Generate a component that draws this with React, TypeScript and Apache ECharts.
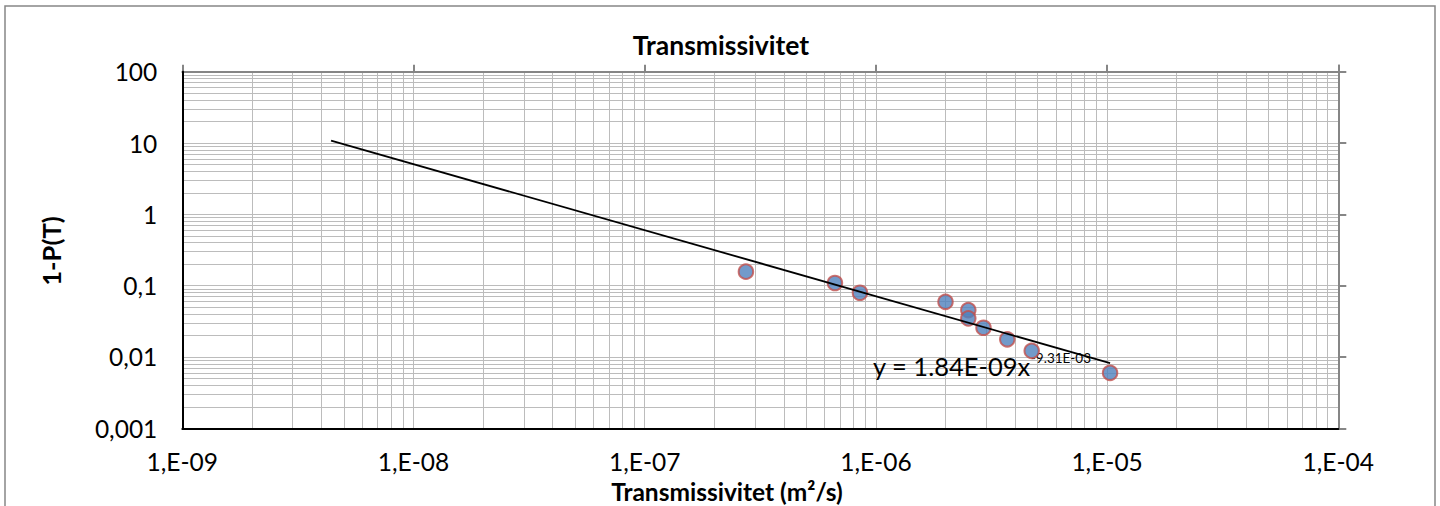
import React, { useEffect, useRef } from "react";
import * as echarts from "echarts";

// Transmissivity (m²/s) against exceedance probability 1-P(T)
const TRANSMISSIVITY = [2.74e-7, 6.65e-7, 8.53e-7, 2.0e-6, 2.51e-6, 2.51e-6, 2.92e-6, 3.7e-6, 4.72e-6, 1.03e-5];
const EXCEEDANCE = [0.157, 0.109, 0.0795, 0.0594, 0.0455, 0.0348, 0.0257, 0.0177, 0.0122, 0.006];

// Power-law trendline end points (straight on log-log axes)
const TREND_T = [4.4e-9, 1.03e-5];
const TREND_P = [10.8, 0.0082];

// Axis ranges and tick labels (one label per decade)
const X_MIN_EXP = -9;
const X_MAX_EXP = -4;
const Y_MIN_EXP = -3;
const Y_MAX_EXP = 2;
const X_TICK_LABELS = ["1,E-09", "1,E-08", "1,E-07", "1,E-06", "1,E-05", "1,E-04"];
const Y_TICK_LABELS = ["0,001", "0,01", "0,1", "1", "10", "100"];

const TITLE = "Transmissivitet";
const X_TITLE = "Transmissivitet (m²/s)";
const Y_TITLE = "1-P(T)";
const EQUATION_MAIN = "y = 1.84E-09x";
const EQUATION_EXP = "-9.31E-03";

const FONT = "Lato, 'Open Sans', sans-serif";
const GRID_COLOR = "#bcbcbc";
const FRAME_COLOR = "#868686";

// Interior log grid lines: 1..9 × 10^k, skipping the plot edges
function logGridValues(minExp: number, maxExp: number): number[] {
  const out: number[] = [];
  for (let e = minExp; e < maxExp; e++) {
    for (let m = 1; m <= 9; m++) {
      if (e === minExp && m === 1) continue;
      out.push(Number((m * Math.pow(10, e)).toPrecision(3)));
    }
  }
  return out;
}

export default function App() {
  const ref = useRef<HTMLDivElement>(null);

  useEffect(() => {
    if (!ref.current) return;
    const chart = echarts.init(ref.current, null, { renderer: "svg" });

    const xMin = Math.pow(10, X_MIN_EXP);
    const xMax = Math.pow(10, X_MAX_EXP);
    const yMin = Math.pow(10, Y_MIN_EXP);
    const yMax = Math.pow(10, Y_MAX_EXP);

    const xGrid = logGridValues(X_MIN_EXP, X_MAX_EXP);
    const yGrid = logGridValues(Y_MIN_EXP, Y_MAX_EXP);
    const gridSegments = [
      ...xGrid.map((v) => ({ coords: [[v, yMin], [v, yMax]] })),
      ...yGrid.map((v) => ({ coords: [[xMin, v], [xMax, v]] })),
    ];

    const xLabel = (v: number) => X_TICK_LABELS[Math.round(Math.log10(v)) - X_MIN_EXP] ?? "";
    const yLabel = (v: number) => Y_TICK_LABELS[Math.round(Math.log10(v)) - Y_MIN_EXP] ?? "";

    chart.setOption({
      animation: false,
      backgroundColor: "#ffffff",
      grid: { left: 182.3, right: 101.7, top: 71.7, bottom: 77.7, containLabel: false },
      xAxis: [
        {
          type: "log",
          logBase: 10,
          min: xMin,
          max: xMax,
          position: "bottom",
          z: 6,
          axisLine: { show: true, lineStyle: { color: "#000000", width: 2 } },
          axisTick: { show: false },
          splitLine: { show: false },
          axisLabel: {
            formatter: xLabel,
            fontFamily: FONT,
            fontSize: 24.5,
            color: "#000000",
            margin: 21,
            showMinLabel: true,
            showMaxLabel: true,
          },
        },
        {
          type: "log",
          logBase: 10,
          min: xMin,
          max: xMax,
          position: "top",
          z: 5,
          axisLine: { show: true, lineStyle: { color: FRAME_COLOR, width: 2 } },
          axisTick: { show: true, inside: false, length: 7, lineStyle: { color: FRAME_COLOR, width: 2 } },
          splitLine: { show: false },
          axisLabel: { show: false },
        },
      ],
      yAxis: [
        {
          type: "log",
          logBase: 10,
          min: yMin,
          max: yMax,
          position: "left",
          z: 6,
          axisLine: { show: true, lineStyle: { color: "#000000", width: 2 } },
          axisTick: { show: false },
          splitLine: { show: false },
          axisLabel: {
            formatter: yLabel,
            fontFamily: FONT,
            fontSize: 24.5,
            color: "#000000",
            margin: 25,
            showMinLabel: true,
            showMaxLabel: true,
          },
        },
        {
          type: "log",
          logBase: 10,
          min: yMin,
          max: yMax,
          position: "right",
          z: 5,
          axisLine: { show: true, lineStyle: { color: FRAME_COLOR, width: 2 } },
          axisTick: { show: true, inside: false, length: 8, lineStyle: { color: FRAME_COLOR, width: 2 } },
          splitLine: { show: false },
          axisLabel: { show: false },
        },
      ],
      graphic: [
        {
          type: "rect",
          shape: { x: 5, y: 6, width: 1430, height: 540 },
          style: { fill: "none", stroke: FRAME_COLOR, lineWidth: 1.5 },
          silent: true,
          z: 0,
        },
        {
          type: "text",
          x: 721,
          y: 45,
          style: {
            text: TITLE,
            fontFamily: FONT,
            fontWeight: "bold",
            fontSize: 26.5,
            fill: "#000000",
            align: "center",
            verticalAlign: "middle",
          },
          z: 10,
        },
        {
          type: "text",
          x: 727,
          y: 491,
          style: {
            text: X_TITLE,
            fontFamily: FONT,
            fontWeight: "bold",
            fontSize: 24.5,
            fill: "#000000",
            align: "center",
            verticalAlign: "middle",
          },
          z: 10,
        },
        {
          type: "text",
          x: 51,
          y: 251,
          rotation: Math.PI / 2,
          style: {
            text: Y_TITLE,
            fontFamily: FONT,
            fontWeight: "bold",
            fontSize: 25.5,
            fill: "#000000",
            align: "center",
            verticalAlign: "middle",
          },
          z: 10,
        },
        {
          type: "text",
          x: 873,
          y: 366,
          style: {
            text: "{m|" + EQUATION_MAIN + "}{s|" + EQUATION_EXP + "}",
            fontFamily: FONT,
            fill: "#000000",
            align: "left",
            verticalAlign: "middle",
            rich: {
              m: { fontFamily: FONT, fontSize: 25.5, lineHeight: 30, fill: "#000000" },
              s: {
                fontFamily: FONT,
                fontSize: 13.5,
                lineHeight: 14,
                verticalAlign: "top",
                padding: [0, 0, 4, 0],
                fill: "#000000",
              },
            },
          },
          z: 3,
        },
      ],
      series: [
        {
          name: "grid",
          type: "lines",
          coordinateSystem: "cartesian2d",
          xAxisIndex: 0,
          yAxisIndex: 0,
          polyline: false,
          silent: true,
          z: 1,
          symbol: ["none", "none"],
          lineStyle: { color: GRID_COLOR, width: 1, opacity: 1 },
          data: gridSegments,
        },
        {
          name: "1-P(T)",
          type: "scatter",
          data: TRANSMISSIVITY.map((t, i) => [t, EXCEEDANCE[i]]),
          symbol: "circle",
          symbolSize: 14.5,
          z: 8,
          itemStyle: { color: "#4f81bd", borderColor: "#c0504d", borderWidth: 2 },
        },
        {
          name: "Trend",
          type: "line",
          data: TREND_T.map((t, i) => [t, TREND_P[i]]),
          showSymbol: false,
          symbol: "none",
          z: 9,
          lineStyle: { color: "#000000", width: 1.8 },
        },
      ],
    });

    return () => chart.dispose();
  }, []);

  return (
    <div
      ref={ref}
      style={{ position: "absolute", left: 0, top: 0, width: 1440, height: 506 }}
    />
  );
}
